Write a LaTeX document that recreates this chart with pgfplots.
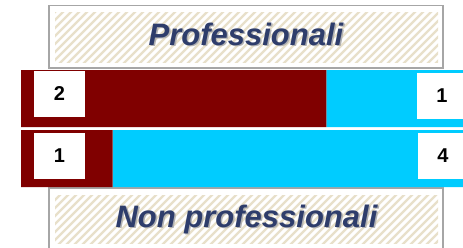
\documentclass[border=0pt]{standalone}
\usepackage{pgfplots}
\pgfplotsset{compat=1.18}
\usepackage{fontspec}
\setmainfont{Liberation Sans}
\definecolor{dred}{HTML}{800000}
\definecolor{cyanb}{HTML}{00CCFF}
\definecolor{navy}{HTML}{2E3D6B}
\definecolor{hatch}{HTML}{E8E0CA}
\definecolor{bordergray}{HTML}{A6A6A6}
\begin{document}
\begin{tikzpicture}[x=1pt,y=1pt]
\clip (0,0) rectangle (463,247);
\fill[white] (0,0) rectangle (463,247);
% top box
\draw[bordergray, line width=1.8pt] (49,241.5) rectangle (443,179);
\begin{scope}
\clip (55,234) rectangle (438,185);
\foreach \i in {-80,-72,...,450} \draw[hatch, line width=2.2pt] (\i,180) -- ++(60,60);
\end{scope}
% bottom box
\draw[bordergray, line width=1.8pt] (49,59) rectangle (443,-10);
\begin{scope}
\clip (55,52) rectangle (438,4);
\foreach \i in {-80,-72,...,450} \draw[hatch, line width=2.2pt] (\i,0) -- ++(60,60);
\end{scope}
% titles
\node[anchor=base, text=gray!60, font=\fontsize{31}{36}\selectfont\bfseries\itshape] at (247.5,200.5) {Professionali};
\node[anchor=base, text=navy, font=\fontsize{31}{36}\selectfont\bfseries\itshape] at (246,202) {Professionali};
\node[anchor=base, text=gray!60, font=\fontsize{31}{36}\selectfont\bfseries\itshape] at (248,18.5) {Non professionali};
\node[anchor=base, text=navy, font=\fontsize{31}{36}\selectfont\bfseries\itshape] at (246.5,20) {Non professionali};
% bars
\begin{axis}[
  at={(21pt,58.5pt)}, anchor=south west,
  scale only axis, width=458pt, height=120pt,
  xmin=0, xmax=100, ymin=0.5, ymax=2.5,
  hide axis, xbar stacked, bar width=57pt,
]
\addplot[fill=dred, draw=none] coordinates {(66.67,2) (20,1)};
\addplot[fill=cyanb, draw=none] coordinates {(33.33,2) (80,1)};
\end{axis}
% value labels
\tikzset{lab/.style={fill=white, inner sep=0pt, minimum width=51pt, minimum height=46pt, font=\fontsize{20}{24}\selectfont\bfseries}}
\node[lab] at (59.5,153) {2};
\node[lab] at (59.5,91.5) {1};
\node[lab] at (442,151) {1};
\node[lab] at (443,91.5) {4};
\end{tikzpicture}
\end{document}
